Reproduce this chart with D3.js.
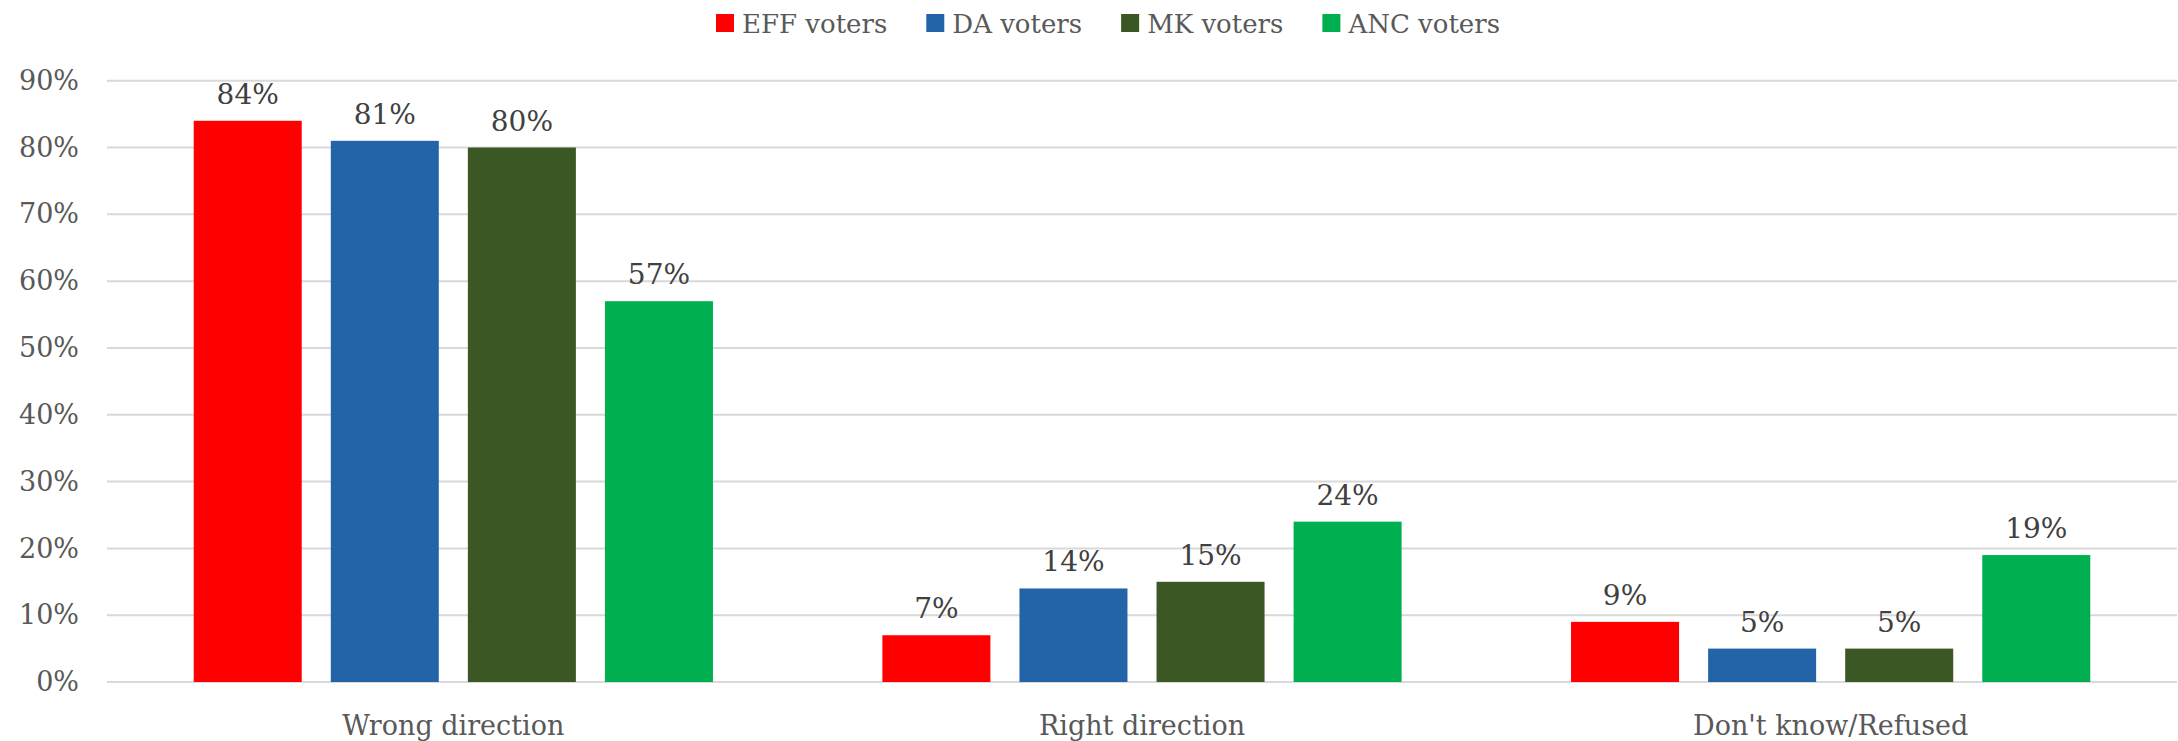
<!DOCTYPE html>
<html>
<head>
<meta charset="utf-8">
<script src="https://cdn.jsdelivr.net/npm/d3@7"></script>
<style>
  body { margin: 0; background: #fff; }
  text { font-family: "DejaVu Serif", serif; }
</style>
</head>
<body>
<svg id="chart" width="2178" height="741"></svg>
<script>
const categories = ["Wrong direction", "Right direction", "Don't know/Refused"];
const seriesNames = ["EFF voters", "DA voters", "MK voters", "ANC voters"];
const seriesColors = ["#ff0000", "#2364a8", "#3b5724", "#00b050"];
const effValues = [84, 7, 9];
const daValues = [81, 14, 5];
const mkValues = [80, 15, 5];
const ancValues = [57, 24, 19];
const yTicks = [0, 10, 20, 30, 40, 50, 60, 70, 80, 90];

const seriesValues = [effValues, daValues, mkValues, ancValues];

const svg = d3.select("#chart");
const margin = { left: 109, right: 3, top: 80.7, bottom: 59 };
const width = +svg.attr("width");
const height = +svg.attr("height");

const x0 = d3.scaleBand()
    .domain(categories)
    .range([margin.left, width - margin.right])
    .padding(0);

const x1 = d3.scaleBand()
    .domain(seriesNames)
    .range([0, x0.bandwidth()])
    .paddingInner(0.212)
    .paddingOuter(0.618);

const y = d3.scaleLinear()
    .domain([0, 90])
    .range([height - margin.bottom, margin.top]);

// gridlines
svg.append("g")
  .selectAll("line")
  .data(yTicks)
  .enter().append("line")
    .attr("x1", 107)
    .attr("x2", width - 1)
    .attr("y1", d => y(d))
    .attr("y2", d => y(d))
    .attr("stroke", "#d9d9d9")
    .attr("stroke-width", 2);

// y axis labels
const yAxis = d3.axisLeft(y)
    .tickValues(yTicks)
    .tickFormat(d => d + "%")
    .tickSize(0)
    .tickPadding(30);

svg.append("g")
    .attr("transform", `translate(${margin.left},0)`)
    .call(yAxis)
    .call(g => g.select(".domain").remove())
    .call(g => g.selectAll("text")
        .attr("font-family", "DejaVu Serif")
        .attr("font-size", 27)
        .attr("fill", "#595959"));

// bars
const group = svg.append("g")
  .selectAll("g")
  .data(categories)
  .enter().append("g")
    .attr("transform", d => `translate(${x0(d)},0)`);

const cells = group.selectAll("g")
  .data((c, ci) => seriesNames.map((s, si) => ({ series: s, si: si, value: seriesValues[si][ci] })))
  .enter().append("g");

cells.append("rect")
    .attr("x", d => x1(d.series))
    .attr("width", x1.bandwidth())
    .attr("y", d => y(d.value))
    .attr("height", d => y(0) - y(d.value))
    .attr("fill", d => seriesColors[d.si]);

cells.append("text")
    .attr("x", d => x1(d.series) + x1.bandwidth() / 2)
    .attr("y", d => y(d.value) - 17)
    .attr("text-anchor", "middle")
    .attr("font-size", 28)
    .attr("fill", "#404040")
    .text(d => d.value + "%");

// category labels
svg.append("g")
  .selectAll("text")
  .data(categories)
  .enter().append("text")
    .attr("x", d => x0(d) + x0.bandwidth() / 2)
    .attr("y", 735)
    .attr("text-anchor", "middle")
    .attr("font-size", 27)
    .attr("fill", "#595959")
    .text(d => d);

// legend
const legend = svg.append("g");
let lx = 716;
seriesNames.forEach((name, i) => {
  const item = legend.append("g").attr("transform", `translate(${lx},0)`);
  item.append("rect")
      .attr("x", 0)
      .attr("y", 14)
      .attr("width", 18)
      .attr("height", 18)
      .attr("fill", seriesColors[i]);
  const t = item.append("text")
      .attr("x", 26)
      .attr("y", 33)
      .attr("font-size", 26)
      .attr("fill", "#595959")
      .text(name);
  lx += 26 + t.node().getComputedTextLength() + 39;
});
</script>
</body>
</html>
